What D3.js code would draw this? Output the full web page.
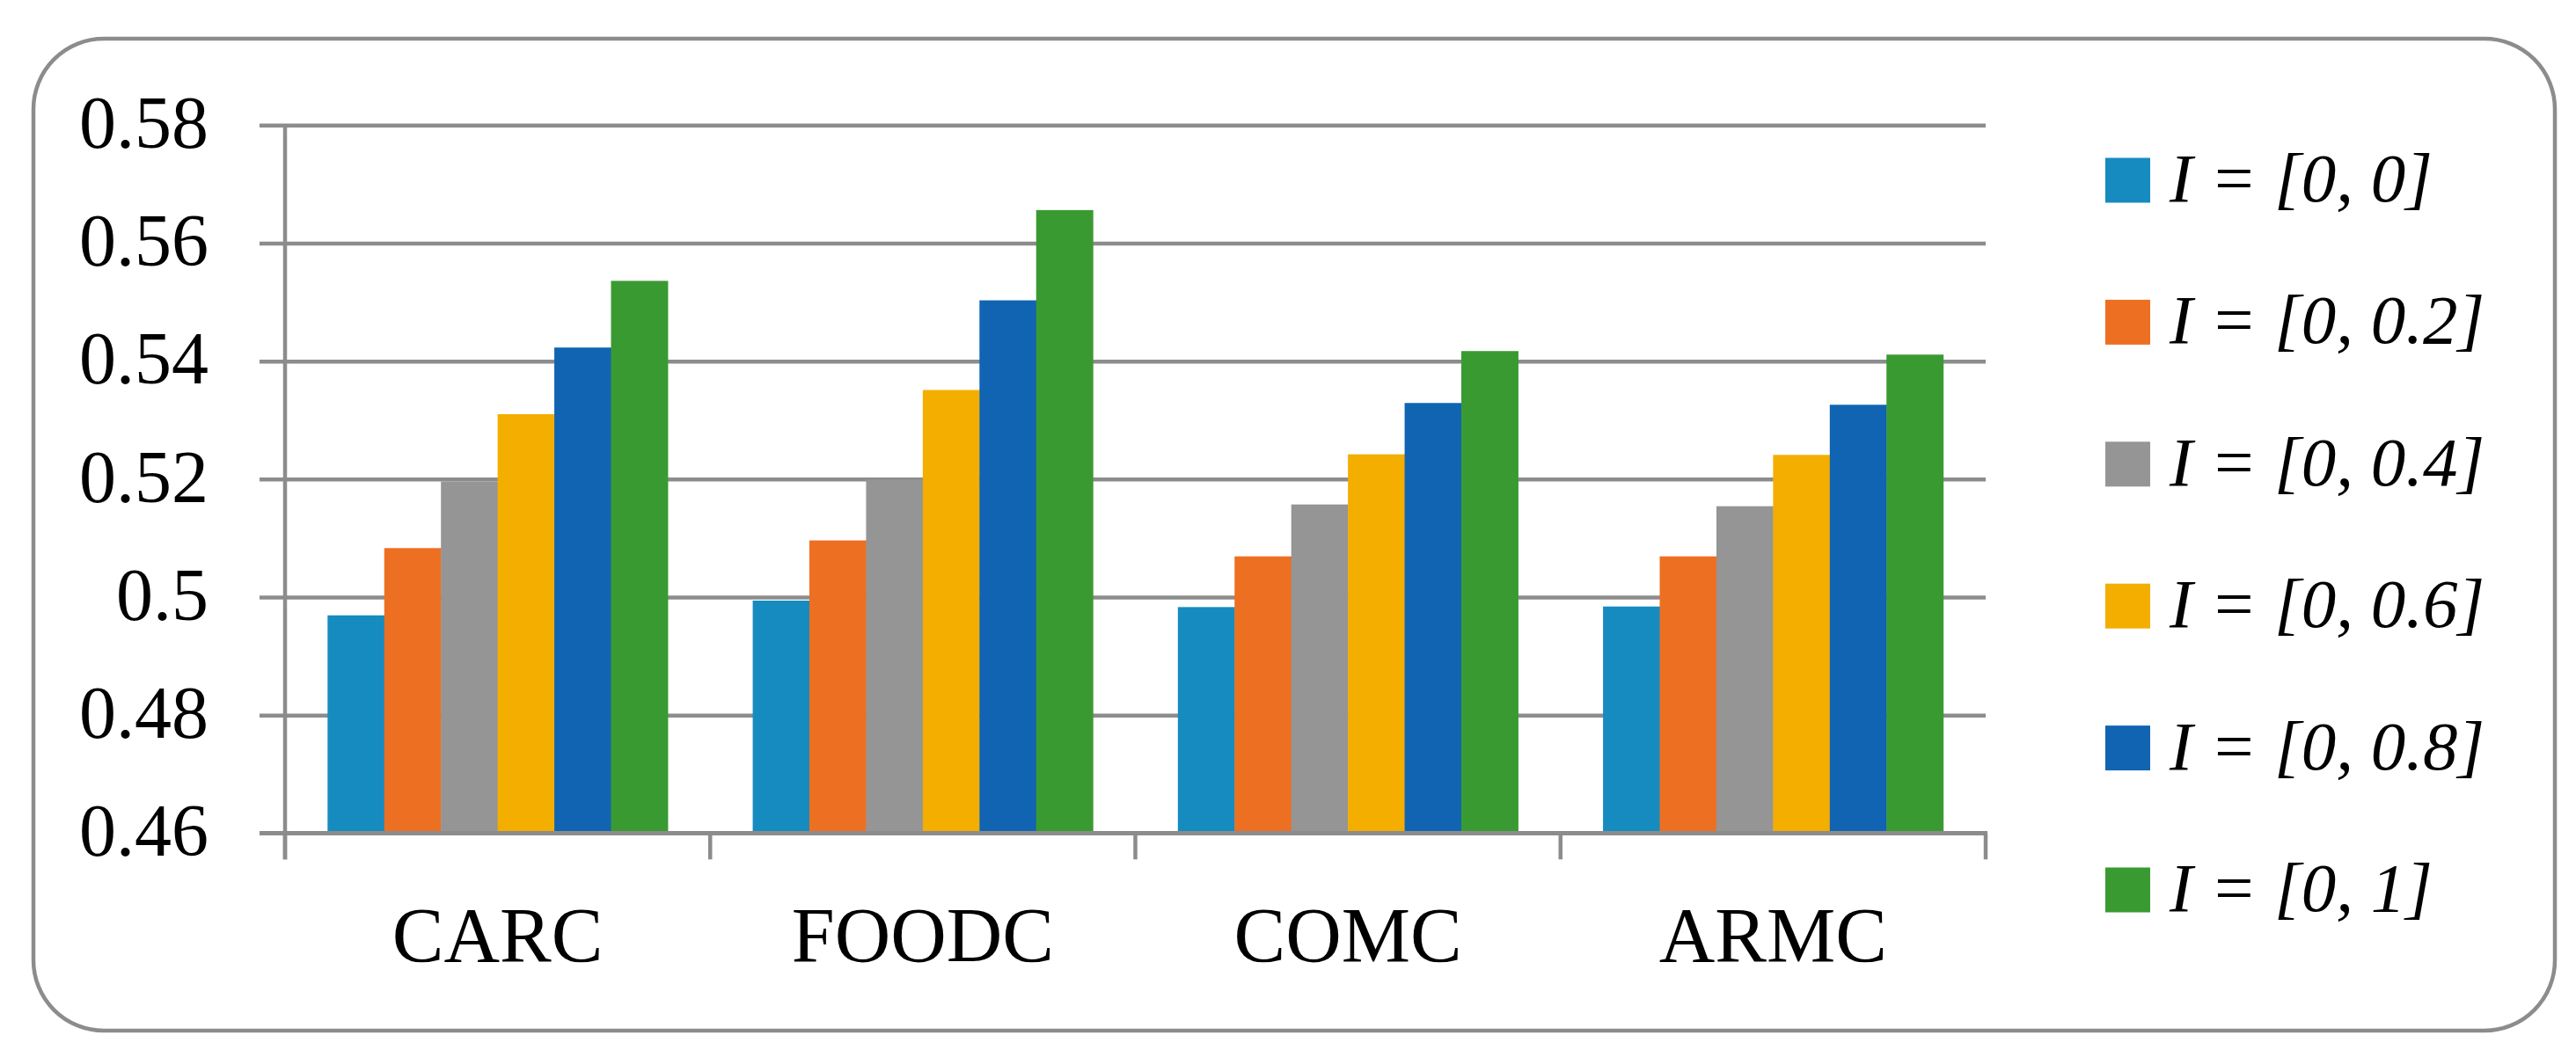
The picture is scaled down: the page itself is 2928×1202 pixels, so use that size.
<!DOCTYPE html>
<html>
<head>
<meta charset="utf-8">
<script src="https://cdn.jsdelivr.net/npm/d3@7"></script>
<style>
  html, body { margin: 0; padding: 0; background: #ffffff; }
  svg { display: block; }
</style>
</head>
<body>
<script>
// ---- data ----
const categories = ["CARC", "FOODC", "COMC", "ARMC"];
const seriesNames = ["I = [0, 0]", "I = [0, 0.2]", "I = [0, 0.4]", "I = [0, 0.6]", "I = [0, 0.8]", "I = [0, 1]"];
const seriesColors = ["#168bc0", "#ed6f21", "#959595", "#f3ae00", "#1164b2", "#3a9a32"];
const s00 = [0.4969, 0.4994, 0.4983, 0.4984];
const s02 = [0.5083, 0.5096, 0.5069, 0.5069];
const s04 = [0.5196, 0.5199, 0.5157, 0.5154];
const s06 = [0.5310, 0.5351, 0.5242, 0.5241];
const s08 = [0.5423, 0.5503, 0.5329, 0.5326];
const s10 = [0.5536, 0.5656, 0.5417, 0.5411];
const seriesValues = [s00, s02, s04, s06, s08, s10];
const yTicks = [0.46, 0.48, 0.50, 0.52, 0.54, 0.56, 0.58];
const yTickLabels = ["0.46", "0.48", "0.5", "0.52", "0.54", "0.56", "0.58"];

// ---- layout ----
const W = 2928, H = 1202;
const plotL = 324, plotR = 2257, plotT = 142.3, plotB = 947.3;
const gridStart = 295;
const gridColor = "#8c8c8c";
const font = "'Liberation Serif', 'Times New Roman', serif";

const svg = d3.select("body").append("svg")
  .attr("width", W).attr("height", H)
  .attr("viewBox", `0 0 ${W} ${H}`);

svg.append("rect").attr("width", W).attr("height", H).attr("fill", "#fff");

// outer rounded frame
svg.append("rect")
  .attr("x", 38).attr("y", 44)
  .attr("width", 2904 - 38).attr("height", 1172 - 44)
  .attr("rx", 80).attr("ry", 80)
  .attr("fill", "none").attr("stroke", gridColor).attr("stroke-width", 4.5);

const x0 = d3.scaleBand().domain(categories).range([plotL, plotR]).paddingInner(0).paddingOuter(0);
const bw = x0.bandwidth();
const pad = bw * 0.75 / 7.5;
const x1 = d3.scaleBand().domain(d3.range(seriesNames.length)).range([pad, bw - pad]).padding(0);
const y = d3.scaleLinear().domain([0.46, 0.58]).range([plotB, plotT]);

// gridlines + y labels via axis
const yAxis = d3.axisLeft(y)
  .tickValues(yTicks)
  .tickSize(-(plotR - gridStart))
  .tickPadding(58)
  .tickFormat((d, i) => yTickLabels[i]);

const gy = svg.append("g").attr("transform", `translate(${gridStart},0)`).call(yAxis);
gy.select(".domain").remove();
gy.selectAll(".tick line").attr("stroke", gridColor).attr("stroke-width", 4.5);
gy.selectAll(".tick text")
  .attr("font-family", font).attr("font-size", 84).attr("fill", "#000")
  .attr("dy", "0.3em");

// bars
const groups = svg.append("g").selectAll("g")
  .data(categories)
  .join("g")
  .attr("transform", d => `translate(${x0(d)},0)`);

groups.selectAll("rect")
  .data((c, ci) => seriesValues.map((arr, si) => ({ si, v: arr[ci] })))
  .join("rect")
  .attr("x", d => x1(d.si))
  .attr("width", x1.bandwidth() + 0.5)
  .attr("y", d => y(d.v))
  .attr("height", d => plotB - y(d.v))
  .attr("fill", d => seriesColors[d.si]);

// y axis line
svg.append("line")
  .attr("x1", plotL).attr("x2", plotL)
  .attr("y1", plotT).attr("y2", plotB + 30)
  .attr("stroke", gridColor).attr("stroke-width", 4.5);

// x axis line
svg.append("line")
  .attr("x1", gridStart).attr("x2", plotR + 2)
  .attr("y1", plotB).attr("y2", plotB)
  .attr("stroke", gridColor).attr("stroke-width", 4.5);

// x boundary ticks
const bounds = categories.map(c => x0(c)).concat([x0(categories[categories.length - 1]) + bw]);
svg.append("g").selectAll("line")
  .data(bounds)
  .join("line")
  .attr("x1", d => d).attr("x2", d => d)
  .attr("y1", plotB).attr("y2", plotB + 30)
  .attr("stroke", gridColor).attr("stroke-width", 4.5);

// category labels
svg.append("g").selectAll("text")
  .data(categories)
  .join("text")
  .attr("x", d => x0(d) + bw / 2)
  .attr("y", 1093)
  .attr("text-anchor", "middle")
  .attr("font-family", font).attr("font-size", 88).attr("fill", "#000")
  .text(d => d);

// legend
const legY0 = 205, legStep = 161.4;
const leg = svg.append("g").selectAll("g")
  .data(seriesNames)
  .join("g")
  .attr("transform", (d, i) => `translate(0,${legY0 + i * legStep})`);

leg.append("rect")
  .attr("x", 2393).attr("y", -25.5)
  .attr("width", 51).attr("height", 51)
  .attr("fill", (d, i) => seriesColors[i]);

leg.append("text")
  .attr("x", 2466).attr("y", 24)
  .attr("font-family", font).attr("font-style", "italic")
  .attr("font-size", 79).attr("fill", "#000")
  .text(d => d);
</script>
</body>
</html>
